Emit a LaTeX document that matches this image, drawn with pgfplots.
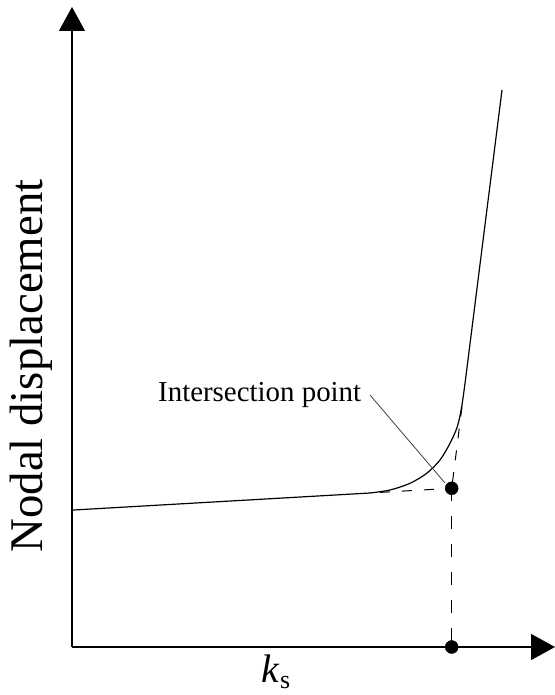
\documentclass[border=0pt]{standalone}
\usepackage{pgfplots}
\pgfplotsset{compat=1.18}
\usepackage{fontspec}
\setmainfont{Liberation Serif}
\usetikzlibrary{arrows.meta}

\begin{document}
\begin{tikzpicture}
\begin{axis}[
  at={(0,0)}, anchor=south west,
  scale only axis,
  width=483bp, height=640bp,
  xmin=0, xmax=483, ymin=0, ymax=640,
  axis lines=left,
  axis line style={line width=1.3bp},
  x axis line style={-{Triangle[length=24bp,width=26bp]}},
  y axis line style={-{Triangle[length=24bp,width=26bp]}},
  xtick=\empty, ytick=\empty,
  clip=false,
  xlabel={\fontsize{40}{44}\selectfont\textit{k}\raisebox{-0.16em}{\fontsize{26}{28}\selectfont s}},
  xlabel style={at={(axis cs:204,-35)}, anchor=base, inner sep=0pt},
  ylabel={\fontsize{47}{50}\selectfont Nodal displacement},
  ylabel style={at={(axis cs:-29,281)}, anchor=base, rotate=0, inner sep=0pt},
]
% linear branch at low stiffness
\addplot[line width=1.2bp, black] coordinates {(0,136.9) (298,154.0)};
% transition
\addplot[line width=1.2bp, black, smooth, tension=0.5] coordinates {
  (298,154.0) (318,157.0) (338,163.7) (354.7,173.7) (368,187.0)
  (378,203.7) (385.3,220.3) (389.7,240.3) (393,263.7) (394.7,277.0)};
% steep branch
\addplot[line width=1.2bp, black] coordinates {(394.7,277.0) (430,557)};

% tangent extensions
\addplot[line width=1bp, black, dash pattern=on 10bp off 12bp] coordinates {(308,154.6) (379.7,158.7)};
\addplot[line width=1bp, black, dash pattern=on 10bp off 12bp] coordinates {(390,240.3) (379.7,158.7)};
\addplot[line width=1bp, black, dash pattern=on 13bp off 15bp] coordinates {(379.7,158.7) (379.7,0)};

% intersection and its projection
\addplot[only marks, mark=*, mark size=6.5bp, black] coordinates {(379.7,158.7) (379.7,0)};

% annotation
\addplot[line width=0.8bp, black!75] coordinates {(298,252) (373,164)};
\node[anchor=base west, inner sep=0pt, font=\fontsize{29}{32}\selectfont]
  at (axis cs:86,246) {Intersection point};
\end{axis}
\pgfresetboundingbox
\path[use as bounding box] (-72bp,-48bp) rectangle (483bp,647bp);
\end{tikzpicture}
\end{document}
